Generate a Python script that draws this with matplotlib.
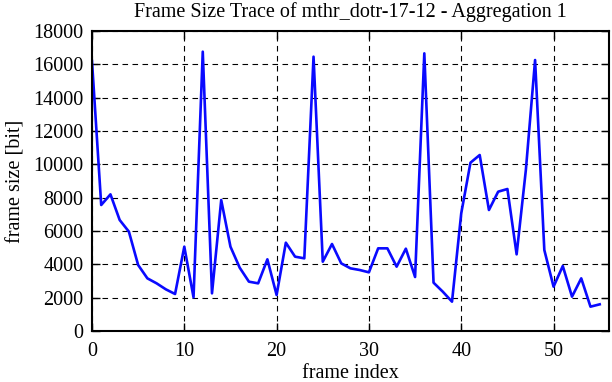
import matplotlib
matplotlib.use("Agg")
import matplotlib.pyplot as plt

# frame sizes
frame_index = list(range(56))
frame_size = [
    16200, 7560, 8200, 6660, 5960, 3960, 3160, 2860, 2500, 2220,
    5060, 2020, 16760, 2260, 7860, 5060, 3800, 2960, 2860, 4300,
    2160, 5300, 4460, 4360, 16460, 4160, 5220, 4060, 3760, 3660,
    3520, 4960, 4960, 3860, 4940, 3240, 16660, 2900, 2360, 1760,
    7060, 10100, 10560, 7260, 8360, 8520, 4600, 9660, 16260, 4860,
    2660, 3900, 2060, 3160, 1460, 1600,
]
x_ticks = [0, 10, 20, 30, 40, 50]
y_ticks = [0, 2000, 4000, 6000, 8000, 10000, 12000, 14000, 16000, 18000]

plt.rcParams['font.family'] = ['Liberation Serif', 'DejaVu Serif']
fs = 14.5

fig = plt.figure(figsize=(6.12, 3.82), dpi=100)
ax = fig.add_axes([0.1503, 0.1335, 0.8447, 0.7853])

ax.plot(frame_index, frame_size, color='#0a0aff', lw=1.9)

ax.set_xlim(0, 56)
ax.set_ylim(0, 18000)
ax.set_xticks(x_ticks)
ax.set_yticks(y_ticks)
ax.tick_params(direction='in', length=6, width=1, top=True, right=True,
               labelsize=fs)
ax.tick_params(axis='x', pad=8)
ax.tick_params(axis='y', pad=6)
ax.grid(True, color='black', linestyle=(0, (5, 4)), linewidth=0.8)
for s in ax.spines.values():
    s.set_linewidth(1.5)

ax.set_title('Frame Size Trace of mthr_dotr-17-12 - Aggregation 1', fontsize=fs, pad=10)
ax.set_xlabel('frame index', fontsize=fs, labelpad=2)
ax.set_ylabel('frame size [bit]', fontsize=fs, labelpad=6)

fig.savefig('out.png', dpi=100)
